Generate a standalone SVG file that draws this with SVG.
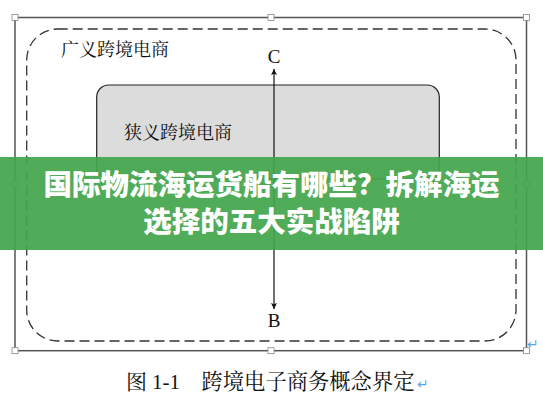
<svg xmlns="http://www.w3.org/2000/svg" width="543" height="408" viewBox="0 0 543 408">
<style>
.frame{fill:none;stroke:#555;stroke-width:1.5}
.handle{fill:#fff;stroke:#888;stroke-width:0.8}
.dash{fill:none;stroke:#333;stroke-width:1.3;stroke-dasharray:10 5}
.box{fill:#dcdcdc;stroke:#222;stroke-width:1.2}
.cjk{font-family:"Liberation Serif","Noto Serif CJK SC","Noto Sans CJK SC",serif;fill:#111}
.lat{font-family:"Liberation Serif",serif;fill:#111}
.mark{font-family:"DejaVu Sans",sans-serif;fill:#5aa9e6}
.ban{font-family:"Noto Sans CJK SC",sans-serif;font-weight:900;fill:#fff;font-size:28.5px;text-anchor:middle}
</style>
<defs>
<marker id="ah" viewBox="0 0 10 10" refX="10" refY="5" markerWidth="6" markerHeight="10" markerUnits="userSpaceOnUse" orient="auto-start-reverse">
<path d="M0,0 L10,5 L0,10 L2,5 Z" fill="#111"/>
</marker>
</defs>
<rect width="543" height="408" fill="#fff"/>
<g id="frame">
<rect class="frame" x="15" y="17.5" width="511.5" height="333.2"/>
<rect class="handle" x="12" y="14.5" width="6" height="6"/>
<rect class="handle" x="268" y="14.5" width="6" height="6"/>
<rect class="handle" x="523.5" y="14.5" width="6" height="6"/>
<rect class="handle" x="12" y="181" width="6" height="6"/>
<rect class="handle" x="523.5" y="181" width="6" height="6"/>
<rect class="handle" x="12" y="347.7" width="6" height="6"/>
<rect class="handle" x="268" y="347.7" width="6" height="6"/>
<rect class="handle" x="523.5" y="347.7" width="6" height="6"/>
</g>
<g id="broad">
<rect class="dash" x="26.7" y="29" width="489.3" height="312" rx="31" ry="31"/>
<text class="cjk" x="61" y="55.5" font-size="18">广义跨境电商</text>
</g>
<g id="narrow">
<rect class="box" x="96.7" y="85" width="342.6" height="94" rx="12" ry="12"/>
<text class="cjk" x="124" y="138.5" font-size="18">狭义跨境电商</text>
</g>
<g id="connectors">
<line x1="274" y1="69" x2="274" y2="309" stroke="#111" stroke-width="1.2" marker-start="url(#ah)" marker-end="url(#ah)"/>
</g>
<g id="labelC"><text class="lat" x="274" y="63" font-size="19" text-anchor="middle">C</text></g>
<g id="labelB"><text class="lat" x="274" y="327" font-size="19" text-anchor="middle">B</text></g>
<g id="caption">
<text class="cjk" x="126" y="389" font-size="21">图</text>
<text class="lat" x="152" y="389" font-size="21">1-1</text>
<text class="cjk" x="201.5" y="389" font-size="21.3">跨境电子商务概念界定</text>
<text class="mark" x="417" y="389" font-size="14">↵</text>
<text class="mark" x="527" y="349" font-size="14">↵</text>
</g>
<g id="banner">
<rect x="0" y="157" width="543" height="93" fill="#44a64c" opacity="0.93"/>
<text class="ban" x="271.5" y="195">国际物流海运货船有哪些？拆解海运</text>
<text class="ban" x="271.5" y="232">选择的五大实战陷阱</text>
</g>
</svg>
